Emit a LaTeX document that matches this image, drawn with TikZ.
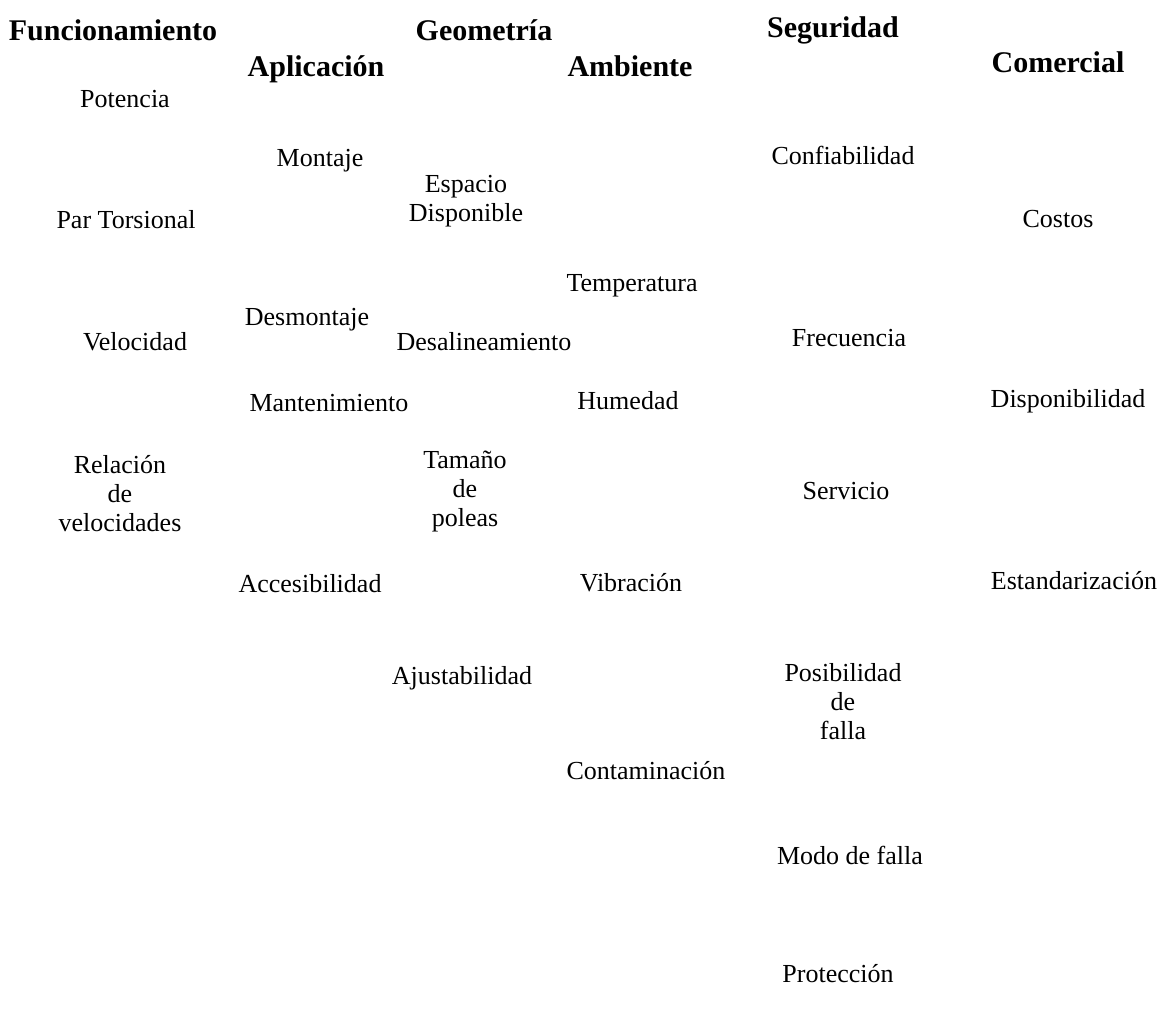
\documentclass[tikz,border=0pt]{standalone}
\usepackage{fontspec}
\setmainfont{Liberation Serif}
\begin{document}
\begin{tikzpicture}[x=1pt,y=-1pt,
  hdr/.style={font=\fontsize{30}{32}\selectfont\bfseries, inner sep=0pt, anchor=base},
  itm/.style={font=\fontsize{26}{28}\selectfont, inner sep=0pt, anchor=base},
  mitm/.style={font=\fontsize{26}{29}\selectfont, inner sep=0pt, align=center, anchor=center}]
\useasboundingbox (0,0) rectangle (1163,1023);
% headers
\node[hdr] (h1) at (113,40) {Funcionamiento};
\node[hdr] (h2) at (484,40) {Geometría};
\node[hdr] (h3) at (316,76) {Aplicación};
\node[hdr] (h4) at (630,76) {Ambiente};
\node[hdr] (h5) at (833,37) {Seguridad};
\node[hdr] (h6) at (1058,72) {Comercial};
% items
\node[itm] (a1) at (125,107) {Potencia};
\node[itm] (a2) at (126,228) {Par Torsional};
\node[itm] (a3) at (135,350) {Velocidad};
\node[mitm] (a4) at (120,494) {Relación\\de\\velocidades};
\node[itm] (b1) at (320,166) {Montaje};
\node[itm] (b2) at (307,325) {Desmontaje};
\node[itm] (b3) at (329,411) {Mantenimiento};
\node[itm] (b4) at (310,592) {Accesibilidad};
\node[itm] (b5) at (462,684) {Ajustabilidad};
\node[mitm] (c1) at (466,201) {Espacio\\Disponible};
\node[itm] (c2) at (484,350) {Desalineamiento};
\node[mitm] (c3) at (465,492) {Tamaño\\de\\poleas};
\node[itm] (d1) at (632,291) {Temperatura};
\node[itm] (d2) at (628,409) {Humedad};
\node[itm] (d3) at (631,591) {Vibración};
\node[itm] (d4) at (646,779) {Contaminación};
\node[itm] (e1) at (843,164) {Confiabilidad};
\node[itm] (e2) at (849,346) {Frecuencia};
\node[itm] (e3) at (846,499) {Servicio};
\node[mitm] (e4) at (843,702) {Posibilidad\\de\\ falla};
\node[itm] (e5) at (850,864) {Modo de falla};
\node[itm] (e6) at (838,982) {Protección};
\node[itm] (f1) at (1058,227) {Costos};
\node[itm] (f2) at (1068,407) {Disponibilidad};
\node[itm] (f3) at (1074,589) {Estandarización};
\end{tikzpicture}
\end{document}
